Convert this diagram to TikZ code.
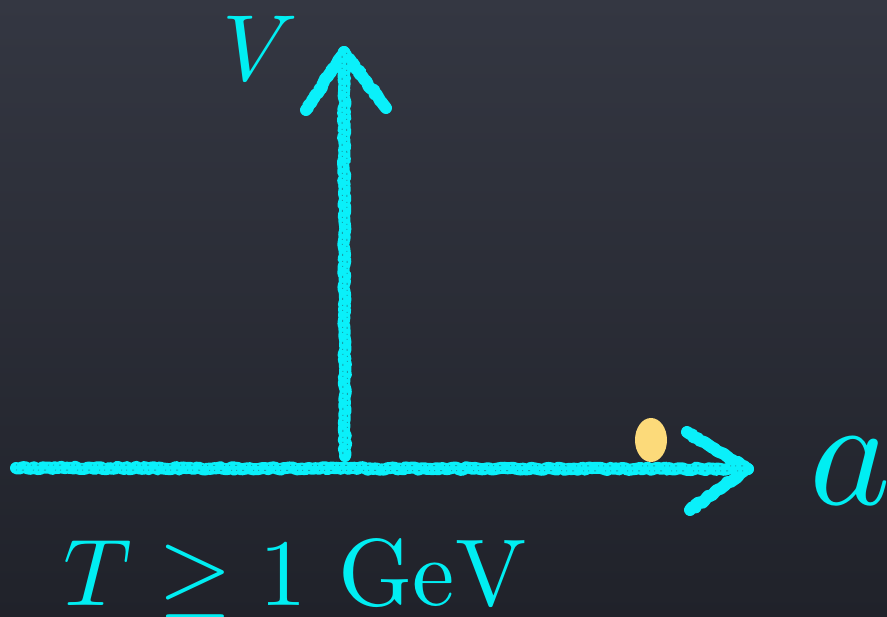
\documentclass[tikz,border=0pt]{standalone}
\usepackage{amsmath}
\usetikzlibrary{decorations.pathmorphing,shapes.geometric}
\definecolor{board}{RGB}{42,45,55}
\definecolor{boardtop}{RGB}{52,55,66}
\definecolor{boardbot}{RGB}{32,34,42}
\definecolor{chalk}{RGB}{10,240,250}
\definecolor{ink}{RGB}{0,238,242}
\definecolor{ball}{RGB}{252,218,122}
\tikzset{
  chalkline/.style={draw=chalk, line width=12pt, line cap=round, line join=round,
    decorate, decoration={random steps, segment length=3pt, amplitude=1.3pt}},
  chalkgrain/.style={draw=board, line width=1pt, dash pattern=on 1pt off 5pt on 2pt off 9pt on 1pt off 4pt,
    opacity=0.4},
  lbl/.style={text=ink, inner sep=0pt, anchor=base west, font=\fontsize{10}{12}\selectfont}
}
\begin{document}
\begin{tikzpicture}[x=1pt,y=-1pt]
\useasboundingbox (0,0) rectangle (887,617);
\shade[top color=boardtop, bottom color=boardbot] (0,0) rectangle (887,617);
% axis points
\coordinate (hstart) at (16,468);
\coordinate (hend) at (748,469);
\coordinate (vbase) at (345,456);
\coordinate (vtop) at (344,52);
\coordinate (htipup) at (687,432);
\coordinate (htipdn) at (690,510);
\coordinate (vtipl) at (306,110);
\coordinate (vtipr) at (386,108);
% horizontal axis
\path[chalkline] (hstart) -- (hend);
\path[chalkline] (htipup) -- (hend) -- (htipdn);
% vertical axis
\path[chalkline] (vbase) -- (vtop);
\path[chalkline] (vtipl) -- (vtop) -- (vtipr);
% chalk grain
\draw[chalkgrain] ([yshift=-2pt]hstart) -- ([yshift=-2pt]hend);
\draw[chalkgrain, dash phase=7pt] ([yshift=3pt]hstart) -- ([yshift=3pt]hend);
\draw[chalkgrain, dash phase=4pt] ([xshift=-2pt]vbase) -- ([xshift=-2pt]vtop);
\draw[chalkgrain, dash phase=11pt] ([xshift=2.5pt]vbase) -- ([xshift=2.5pt]vtop);
% ball
\node[ellipse, fill=ball, minimum width=32pt, minimum height=44pt, inner sep=0pt] (ball) at (651,440) {};
% labels
\node[lbl, scale=9.4] (vlabel) at (221,81) {$V$};
\node[lbl, scale=15.5] (alabel) at (806,505) {$a$};
\node[lbl, scale=9.5] (tlabel) at (62,605) {$T \geq 1~\mathrm{GeV}$};
\end{tikzpicture}
\end{document}
